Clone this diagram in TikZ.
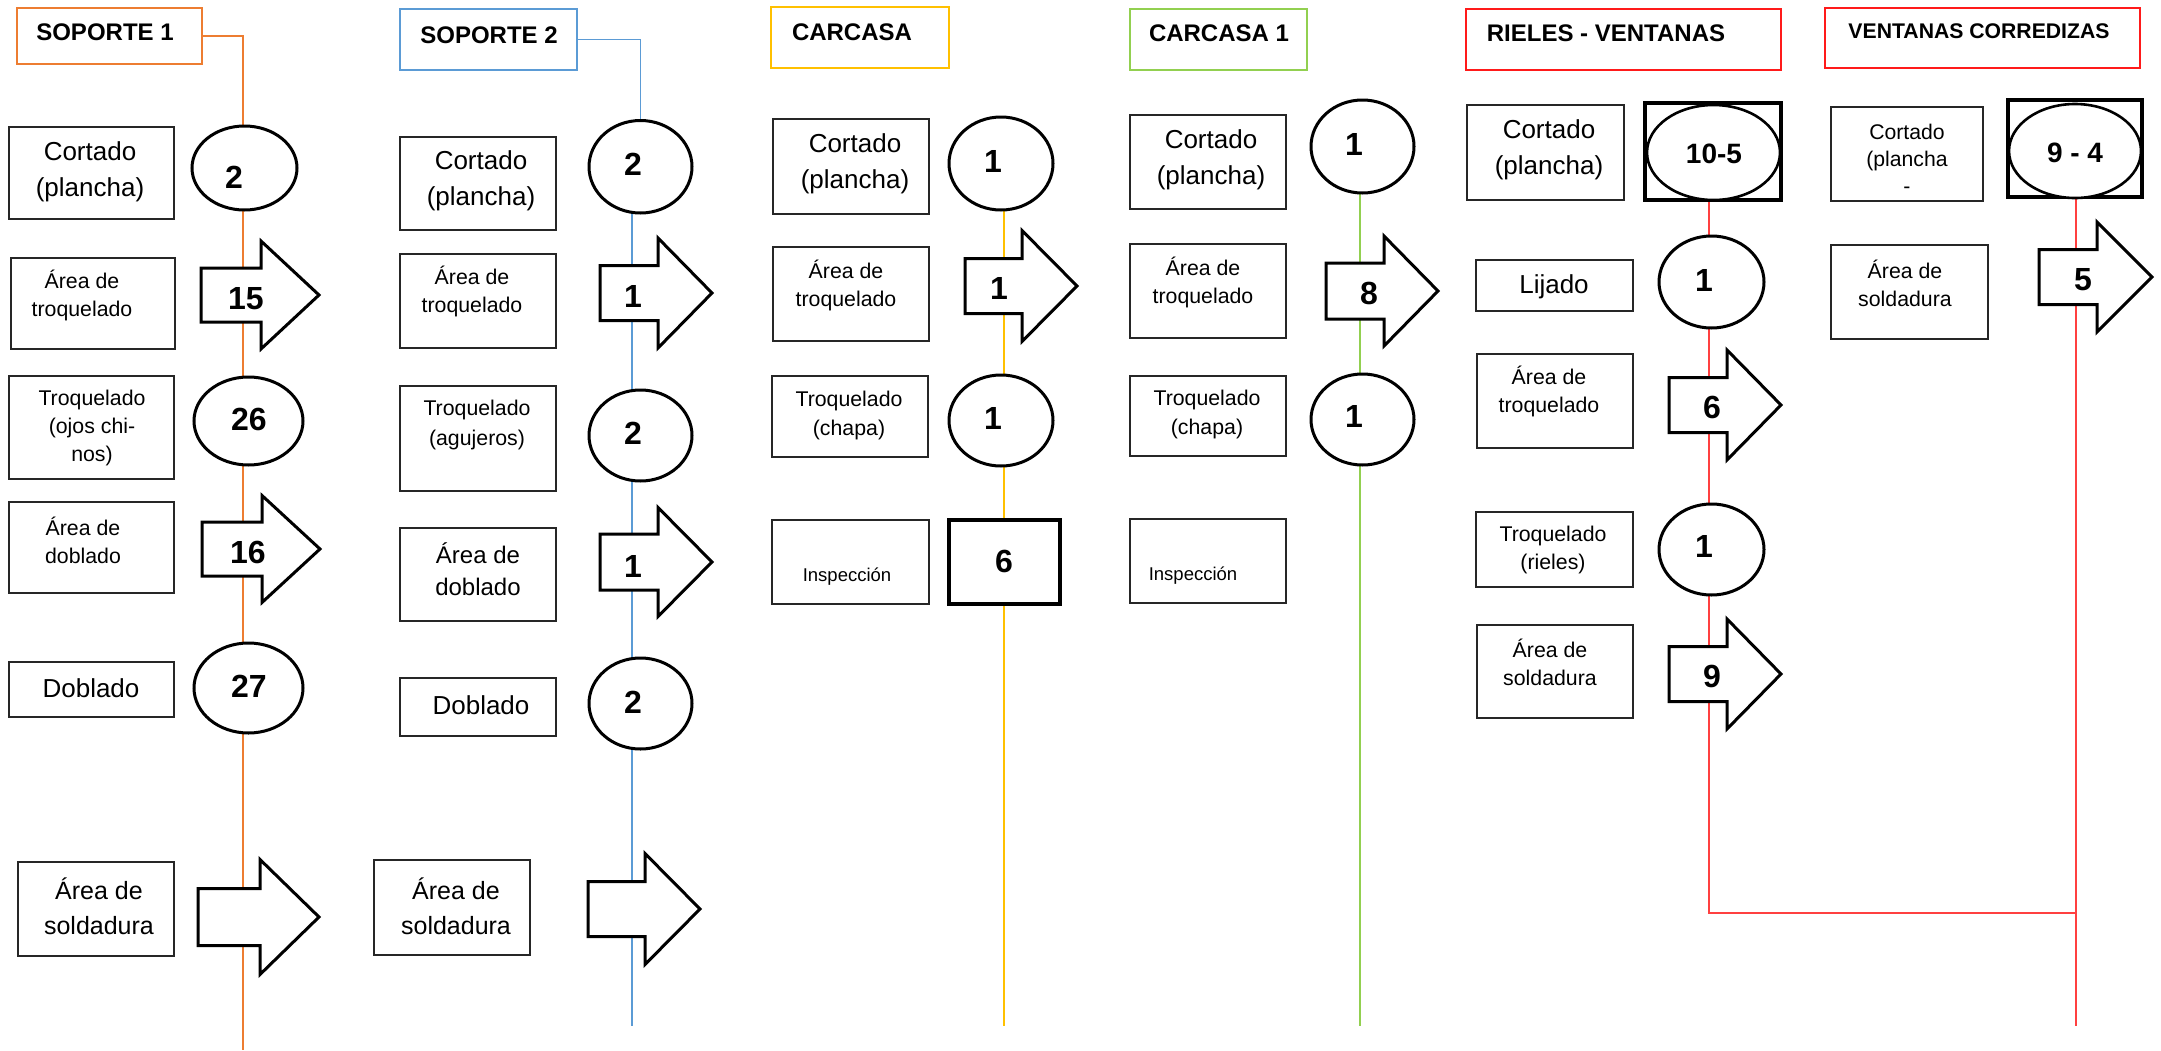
\documentclass[tikz,border=0pt]{standalone}
\usepackage{fontspec}
\setmainfont{Liberation Sans}
\usetikzlibrary{shapes.geometric}
\pgfdeclarelayer{bg}
\pgfsetlayers{bg,main}

\definecolor{cnar}{HTML}{ED7D31}
\definecolor{cazul}{HTML}{5B9BD5}
\definecolor{coro}{HTML}{FFC000}
\definecolor{cverde}{HTML}{92D050}
\definecolor{crojo}{HTML}{FF1A1A}
\definecolor{crojol}{HTML}{FF4040}

% box given by its corners: \caja[opts]{name}{x1}{y1}{x2}{y2}
\newcommand{\caja}[6][]{\node[box,#1,minimum width={#5-#3},minimum height={#6-#4}] (#2) at ({(#3+#5)/2},{(#4+#6)/2}) {};}
% ellipse given by its bounding corners
\newcommand{\elip}[6][]{\node[circ,#1,minimum width={#5-#3},minimum height={#6-#4}] (#2) at ({(#3+#5)/2},{(#4+#6)/2}) {};}
% block arrow: left x, neck x, tip x, centre y, half body, half head
\newcommand{\flecha}[6]{\draw[flechastyle] ({#1},{#4-#5}) -- ({#2},{#4-#5}) -- ({#2},{#4-#6}) -- ({#3},{#4}) -- ({#2},{#4+#6}) -- ({#2},{#4+#5}) -- ({#1},{#4+#5}) -- cycle;}

\tikzset{
  box/.style={draw=black!85,line width=1.6pt,fill=white,rectangle,inner sep=0pt,outer sep=0pt},
  circ/.style={draw=black,line width=3pt,fill=white,ellipse,inner sep=0pt,outer sep=0pt},
  sqbox/.style={draw=black,line width=3.2pt},
  flechastyle/.style={draw=black,line width=3pt,fill=white,line join=miter},
  titbox/.style={rectangle,fill=white,inner sep=0pt,outer sep=0pt},
  ln/.style={line width=1.3pt},
  ttl/.style={font=\bfseries\fontsize{24}{28}\selectfont,inner sep=0pt},
  num/.style={font=\bfseries\fontsize{32}{36}\selectfont,inner sep=0pt},
  numb/.style={font=\bfseries\fontsize{28}{32}\selectfont,inner sep=0pt},
  ta/.style={font=\fontsize{26}{36}\selectfont,align=center,inner sep=0pt},
  tb/.style={font=\fontsize{21.3}{28}\selectfont,align=center,inner sep=0pt},
  tc/.style={font=\fontsize{24}{32}\selectfont,align=center,inner sep=0pt},
  td/.style={font=\fontsize{25}{35}\selectfont,align=center,inner sep=0pt},
  te/.style={font=\fontsize{18.5}{22}\selectfont,align=center,inner sep=0pt},
}

\begin{document}
\begin{tikzpicture}[x=1pt,y=-1pt]
\useasboundingbox (0,0) rectangle (2161,1050);
\begin{pgfonlayer}{bg}
  \fill[white] (0,0) rectangle (2161,1050);
\end{pgfonlayer}

% ---------------- SOPORTE 1 ----------------
\caja[draw=cnar,line width=2pt]{s1t}{17}{8}{202}{64}
\node[ttl] (s1tt) at (105,32) {SOPORTE 1};
\elip{s1c1}{192}{126}{297}{210}
\node[num] (s1n1) at (234,177) {2};
\caja{s1b1}{9}{127}{174}{219}
\node[ta] (s1x1) at (90,172) {Cortado\\(plancha)};
\caja{s1b2}{11}{258}{175}{349}
\node[tb] (s1x2) at (82,295) {Área de\\troquelado};
\flecha{201}{261}{319}{295}{27}{54}
\node[num] (s1n2) at (246,299) {15};
\caja{s1b3}{9}{376}{174}{479}
\node[tb] (s1x3) at (92,428) {Troquelado\\(ojos chi-\\nos)};
\elip{s1c2}{194}{377}{303}{465}
\node[num] (s1n3) at (249,419) {26};
\caja{s1b4}{9}{502}{174}{593}
\node[tb] (s1x4) at (83,540) {Área de\\doblado};
\flecha{202}{262}{320}{549}{27}{53.5}
\node[num] (s1n4) at (248,552) {16};
\caja{s1b5}{9}{662}{174}{717}
\node[ta] (s1x5) at (91,688) {Doblado};
\elip{s1c3}{194}{643}{303}{733}
\node[num] (s1n5) at (249,686) {27};
\caja{s1b6}{18}{862}{174}{956}
\node[td] (s1x6) at (99,906) {Área de\\soldadura};
\flecha{198}{260}{319}{917}{28.5}{57.5}
\coordinate (s1end) at (243,1050);

% ---------------- SOPORTE 2 ----------------
\caja[draw=cazul,line width=2.8pt]{s2t}{400}{9}{577}{70}
\node[ttl] (s2tt) at (489,35) {SOPORTE 2};
\elip{s2c1}{589}{120.5}{692}{213}
\node[num] (s2n1) at (633,164) {2};
\caja{s2b1}{400}{137}{556}{230}
\node[ta] (s2x1) at (481,181) {Cortado\\(plancha)};
\caja{s2b2}{400}{254}{556}{348}
\node[tb] (s2x2) at (472,291) {Área de\\troquelado};
\flecha{600}{658}{712}{293}{27.5}{55}
\node[num] (s2n2) at (633,296) {1};
\caja{s2b3}{400}{386}{556}{491}
\node[tb,font=\fontsize{21.3}{30}\selectfont] (s2x3) at (477,425) {Troquelado\\(agujeros)};
\elip{s2c2}{589}{390}{692}{481}
\node[num] (s2n3) at (633,433) {2};
\caja{s2b4}{400}{528}{556}{621}
\node[tc] (s2x4) at (478,569) {Área de\\doblado};
\flecha{600}{658}{712}{562}{28}{54.5}
\node[num] (s2n4) at (633,566) {1};
\caja{s2b5}{400}{678}{556}{736}
\node[ta] (s2x5) at (481,705) {Doblado};
\elip{s2c3}{589}{658}{692}{749}
\node[num] (s2n5) at (633,702) {2};
\caja{s2b6}{374}{860}{530}{955}
\node[td] (s2x6) at (456,906) {Área de\\soldadura};
\flecha{588}{645}{700}{909}{27.5}{55.5}
\coordinate (s2end) at (632,1026);

% ---------------- CARCASA ----------------
\caja[draw=coro,line width=2.8pt]{cat}{771}{7}{949}{68}
\node[ttl] (catt) at (852,32) {CARCASA};
\elip{cac1}{949}{117}{1053}{210}
\node[num] (can1) at (993,161) {1};
\caja{cab1}{773}{119}{929}{214}
\node[ta] (cax1) at (855,164) {Cortado\\(plancha)};
\caja{cab2}{773}{247}{929}{341}
\node[tb] (cax2) at (846,285) {Área de\\troquelado};
\flecha{965}{1022}{1077}{286}{27.5}{55.5}
\node[num] (can2) at (999,288) {1};
\caja{cab3}{772}{376}{928}{457}
\node[tb,font=\fontsize{21.3}{29}\selectfont] (cax3) at (849,415) {Troquelado\\(chapa)};
\elip{cac2}{949}{375}{1053}{466}
\node[num] (can3) at (993,418) {1};
\caja{cab4}{772}{520}{929}{604}
\node[te] (cax4) at (847,577) {Inspección};
\caja[sqbox]{casq}{949}{520}{1060}{604}
\node[num] (can4) at (1004,561) {6};
\coordinate (caend) at (1004,1026);

% ---------------- CARCASA 1 ----------------
\caja[draw=cverde,line width=1.8pt]{cbt}{1130}{9}{1307}{70}
\node[ttl] (cbtt) at (1219,33) {CARCASA 1};
\elip{cbc1}{1311}{100}{1414}{193}
\node[num] (cbn1) at (1354,144) {1};
\caja{cbb1}{1130}{115}{1286}{209}
\node[ta] (cbx1) at (1211,160) {Cortado\\(plancha)};
\caja{cbb2}{1130}{244}{1286}{338}
\node[tb] (cbx2) at (1203,282) {Área de\\troquelado};
\flecha{1326}{1384}{1438}{291}{28}{55}
\node[num] (cbn2) at (1369,293) {8};
\caja{cbb3}{1130}{376}{1286}{456}
\node[tb,font=\fontsize{21.3}{29}\selectfont] (cbx3) at (1207,414) {Troquelado\\(chapa)};
\elip{cbc2}{1311}{374}{1414}{465}
\node[num] (cbn3) at (1354,416) {1};
\caja{cbb4}{1130}{519}{1286}{603}
\node[te] (cbx4) at (1193,576) {Inspección};
\coordinate (cbend) at (1360,1026);

% ---------------- RIELES - VENTANAS ----------------
\caja[draw=crojo,line width=2pt]{rvt}{1466}{9}{1781}{70}
\node[ttl] (rvtt) at (1606,33) {RIELES - VENTANAS};
\caja{rvb1}{1467}{105}{1624}{200}
\node[ta] (rvx1) at (1549,150) {Cortado\\(plancha)};
\caja[sqbox]{rvsq}{1645}{103}{1781}{200}
\elip[line width=2.6pt]{rvel}{1647}{105}{1780}{200}
\node[numb] (rvn1) at (1714,154) {10-5};
\caja{rvb2}{1476}{260}{1633}{311}
\node[ta] (rvx2) at (1554,287) {Lijado};
\elip{rvc1}{1659}{236}{1764}{328}
\node[num] (rvn2) at (1704,280) {1};
\caja{rvb3}{1477}{354}{1633}{448}
\node[tb] (rvx3) at (1549,391) {Área de\\troquelado};
\flecha{1669}{1727}{1781}{405}{27.5}{55}
\node[num] (rvn3) at (1712,407) {6};
\caja{rvb4}{1476}{512}{1633}{587}
\node[tb] (rvx4) at (1553,550) {Troquelado\\(rieles)};
\elip{rvc2}{1659}{504}{1764}{595}
\node[num] (rvn4) at (1704,546) {1};
\caja{rvb5}{1477}{625}{1633}{718}
\node[tb] (rvx5) at (1550,662) {Área de\\soldadura};
\flecha{1669}{1727}{1781}{674}{27.5}{55}
\node[num] (rvn5) at (1712,676) {9};
\coordinate (rvjoin) at (1709,913);

% ---------------- VENTANAS CORREDIZAS ----------------
\caja[draw=crojo,line width=2pt]{vct}{1825}{8}{2140}{68}
\node[ttl,font=\bfseries\fontsize{21.2}{25}\selectfont] (vctt) at (1979,31) {VENTANAS CORREDIZAS};
\caja{vcb1}{1831}{107}{1983}{201}
\node[tb,font=\fontsize{21.2}{27}\selectfont] (vcx1) at (1907,159) {Cortado\\(plancha\\-};
\caja[sqbox]{vcsq}{2008}{100}{2142}{197}
\elip[line width=2.6pt]{vcel}{2009}{104}{2141}{198}
\node[numb] (vcn1) at (2075,153) {9 - 4};
\caja{vcb2}{1831}{245}{1988}{339}
\node[tb] (vcx2) at (1905,283) {Área de\\soldadura};
\flecha{2039}{2097}{2152}{277}{27.5}{55}
\node[num] (vcn2) at (2083,280) {5};
\coordinate (vcjoin) at (2076,913);
\coordinate (vcend) at (2076,1026);

% ---------------- process lines behind the symbols ----------------
\begin{pgfonlayer}{bg}
  \draw[ln,cnar] (s1t.east) -| (s1end);
  \draw[ln,cazul] (s2t.east) -| (s2c1.north);
  \draw[ln,cazul] (s2c1.south -| s2end) -- (s2end);
  \draw[ln,coro] (cac1.south -| caend) -- (caend);
  \draw[ln,cverde] (cbc1.south -| cbend) -- (cbend);
  \draw[ln,crojol] (rvsq.south -| rvjoin) -- (rvjoin) -- (vcjoin);
  \draw[ln,crojol] (vcsq.south -| vcend) -- (vcend);
\end{pgfonlayer}
\end{tikzpicture}
\end{document}
